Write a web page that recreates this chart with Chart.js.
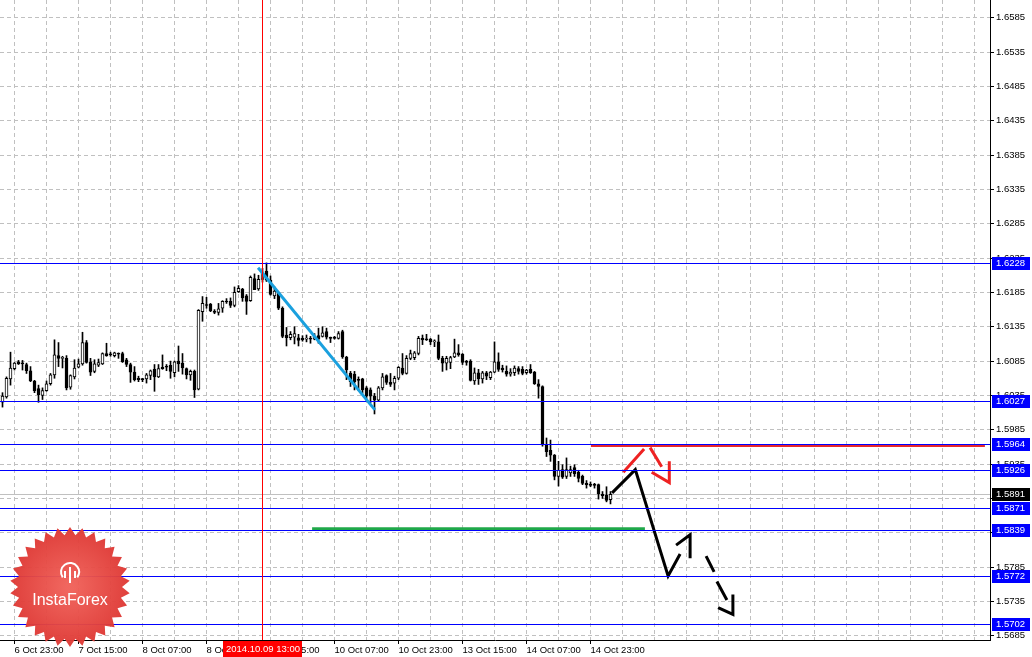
<!DOCTYPE html>
<html>
<head>
<meta charset="utf-8">
<script src="https://cdn.jsdelivr.net/npm/chart.js@4.4.1/dist/chart.umd.min.js"></script>
<style>
  html, body { margin: 0; padding: 0; background: #fff; }
  #grafico { display: block; }
</style>
</head>
<body>
<canvas id="grafico" width="1032" height="657"></canvas>
<script>
// GBPUSD H1 (bar 0 = 6 Oct 20:00)
var opens = [
  1.6025,1.6033,1.6059,1.6074,1.6084,1.6082,1.6080,1.6071,1.6056,1.6045,
  1.6035,1.6042,1.6052,1.6065,1.6093,1.6089,1.6089,1.6047,1.6062,1.6076,
  1.6081,1.6112,1.6084,1.6070,1.6079,1.6081,1.6096,1.6095,1.6093,1.6096,
  1.6096,1.6087,1.6080,1.6069,1.6060,1.6059,1.6059,1.6064,1.6073,1.6062,
  1.6076,1.6077,1.6079,1.6068,1.6085,1.6082,1.6074,1.6065,1.6070,1.6044,
  1.6157,1.6167,1.6168,1.6158,1.6156,1.6162,1.6172,1.6172,1.6166,1.6186,
  1.6190,1.6180,1.6173,1.6205,1.6190,1.6204,1.6216,1.6203,1.6180,1.6184,
  1.6162,1.6123,1.6119,1.6120,1.6119,1.6118,1.6117,1.6118,1.6117,1.6122,
  1.6121,1.6128,1.6119,1.6120,1.6118,1.6128,1.6091,1.6067,1.6066,1.6058,
  1.6059,1.6046,1.6043,1.6034,1.6028,1.6046,1.6064,1.6054,1.6053,1.6060,
  1.6075,1.6067,1.6089,1.6090,1.6096,1.6118,1.6117,1.6117,1.6113,1.6113,
  1.6089,1.6082,1.6083,1.6091,1.6097,1.6095,1.6085,1.6085,1.6056,1.6068,
  1.6059,1.6068,1.6061,1.6069,1.6084,1.6075,1.6070,1.6066,1.6068,1.6074,
  1.6073,1.6068,1.6073,1.6069,1.6052,1.6048,1.5963,1.5955,1.5948,1.5917,
  1.5927,1.5917,1.5922,1.5930,1.5923,1.5917,1.5907,1.5906,1.5905,1.5905,
  1.5891,1.5890,1.5883
];
var highs = [
  1.6039,1.6062,1.6098,1.6083,1.6086,1.6086,1.6082,1.6077,1.6057,1.6050,
  1.6046,1.6056,1.6067,1.6116,1.6112,1.6092,1.6093,1.6065,1.6087,1.6088,
  1.6127,1.6115,1.6089,1.6087,1.6088,1.6097,1.6111,1.6098,1.6098,1.6097,
  1.6098,1.6089,1.6082,1.6077,1.6063,1.6060,1.6067,1.6072,1.6080,1.6080,
  1.6094,1.6080,1.6085,1.6085,1.6107,1.6096,1.6075,1.6072,1.6072,1.6160,
  1.6179,1.6178,1.6169,1.6160,1.6169,1.6173,1.6176,1.6177,1.6193,1.6195,
  1.6191,1.6182,1.6209,1.6212,1.6210,1.6220,1.6228,1.6209,1.6193,1.6185,
  1.6164,1.6134,1.6128,1.6135,1.6124,1.6122,1.6123,1.6121,1.6125,1.6133,
  1.6135,1.6133,1.6120,1.6121,1.6128,1.6130,1.6092,1.6070,1.6070,1.6062,
  1.6060,1.6048,1.6046,1.6038,1.6048,1.6067,1.6065,1.6067,1.6063,1.6077,
  1.6096,1.6093,1.6101,1.6099,1.6121,1.6123,1.6124,1.6118,1.6116,1.6123,
  1.6092,1.6092,1.6092,1.6117,1.6109,1.6096,1.6086,1.6087,1.6075,1.6073,
  1.6070,1.6070,1.6070,1.6113,1.6097,1.6079,1.6078,1.6074,1.6078,1.6077,
  1.6077,1.6073,1.6080,1.6070,1.6058,1.6049,1.5973,1.5970,1.5949,1.5939,
  1.5934,1.5944,1.5932,1.5934,1.5926,1.5919,1.5911,1.5909,1.5907,1.5906,
  1.5895,1.5902,1.5895
];
var lows = [
  1.6018,1.6031,1.6050,1.6072,1.6080,1.6072,1.6067,1.6055,1.6039,1.6025,
  1.6029,1.6041,1.6050,1.6060,1.6077,1.6075,1.6043,1.6044,1.6059,1.6075,
  1.6079,1.6082,1.6064,1.6068,1.6077,1.6080,1.6092,1.6092,1.6091,1.6089,
  1.6083,1.6077,1.6054,1.6056,1.6055,1.6055,1.6053,1.6058,1.6041,1.6061,
  1.6073,1.6071,1.6060,1.6062,1.6070,1.6066,1.6059,1.6057,1.6032,1.6043,
  1.6143,1.6162,1.6157,1.6154,1.6152,1.6156,1.6169,1.6163,1.6164,1.6185,
  1.6172,1.6153,1.6172,1.6189,1.6188,1.6200,1.6201,1.6181,1.6176,1.6160,
  1.6119,1.6107,1.6116,1.6110,1.6107,1.6114,1.6113,1.6111,1.6116,1.6111,
  1.6120,1.6117,1.6112,1.6117,1.6117,1.6089,1.6058,1.6048,1.6043,1.6042,
  1.6038,1.6026,1.6024,1.6008,1.6026,1.6043,1.6051,1.6048,1.6043,1.6058,
  1.6065,1.6066,1.6087,1.6087,1.6094,1.6109,1.6115,1.6109,1.6106,1.6087,
  1.6070,1.6072,1.6074,1.6090,1.6092,1.6080,1.6079,1.6056,1.6051,1.6051,
  1.6053,1.6058,1.6058,1.6068,1.6070,1.6069,1.6063,1.6063,1.6064,1.6066,
  1.6065,1.6066,1.6067,1.6051,1.6031,1.5961,1.5946,1.5939,1.5912,1.5903,
  1.5914,1.5914,1.5917,1.5917,1.5909,1.5905,1.5900,1.5902,1.5900,1.5884,
  1.5885,1.5880,1.5877
];
var closes = [
  1.6034,1.6060,1.6075,1.6082,1.6081,1.6081,1.6071,1.6056,1.6042,1.6036,
  1.6042,1.6052,1.6065,1.6094,1.6089,1.6090,1.6046,1.6064,1.6075,1.6081,
  1.6112,1.6083,1.6069,1.6081,1.6083,1.6096,1.6093,1.6094,1.6097,1.6095,
  1.6084,1.6080,1.6069,1.6058,1.6058,1.6058,1.6065,1.6071,1.6062,1.6074,
  1.6074,1.6076,1.6070,1.6084,1.6081,1.6075,1.6065,1.6070,1.6043,1.6159,
  1.6169,1.6166,1.6158,1.6156,1.6161,1.6172,1.6171,1.6166,1.6185,1.6191,
  1.6177,1.6172,1.6207,1.6189,1.6204,1.6213,1.6203,1.6182,1.6187,1.6162,
  1.6121,1.6119,1.6124,1.6125,1.6115,1.6116,1.6117,1.6117,1.6121,1.6117,
  1.6126,1.6120,1.6118,1.6118,1.6125,1.6091,1.6072,1.6055,1.6055,1.6057,
  1.6043,1.6034,1.6034,1.6028,1.6046,1.6062,1.6054,1.6051,1.6060,1.6076,
  1.6067,1.6089,1.6096,1.6097,1.6118,1.6116,1.6116,1.6113,1.6114,1.6089,
  1.6082,1.6089,1.6090,1.6097,1.6094,1.6083,1.6083,1.6057,1.6068,1.6059,
  1.6068,1.6063,1.6069,1.6084,1.6073,1.6072,1.6066,1.6069,1.6075,1.6070,
  1.6067,1.6072,1.6068,1.6052,1.6048,1.5963,1.5953,1.5948,1.5917,1.5926,
  1.5916,1.5927,1.5927,1.5921,1.5914,1.5907,1.5905,1.5904,1.5904,1.5892,
  1.5889,1.5882,1.5891
];

// eixo de tempo: um rótulo a cada 16 barras, a partir da barra 3
var tickLabels = ['6 Oct 23:00', '7 Oct 15:00', '8 Oct 07:00', '8 Oct 23:00', '9 Oct 15:00',
                  '10 Oct 07:00', '10 Oct 23:00', '13 Oct 15:00', '14 Oct 07:00', '14 Oct 23:00'];
var firstLabelBar = 3;
var labelEvery = 16;
var gridEvery = 8;

var priceTicks = [1.5685, 1.5735, 1.5785, 1.5835, 1.5885, 1.5935, 1.5985, 1.6035, 1.6085, 1.6135,
                  1.6185, 1.6235, 1.6285, 1.6335, 1.6385, 1.6435, 1.6485, 1.6535, 1.6585];

// níveis horizontais e preço atual
var levelPrices = [1.6228, 1.6027, 1.5964, 1.5926, 1.5871, 1.5839, 1.5772, 1.5702];
var lastPrice = 1.5891;

// linha vertical vermelha
var markerBar = 65;
var markerLabel = '2014.10.09 13:00';

// desenhos do analista: [barra, preço]
var trendLine = [[63.9, 1.6221], [93.1, 1.6014]];
var resistanceLine = [[147.1, 1.5962], [245.6, 1.5962]];
var supportLine = [[77.4, 1.5841], [160.6, 1.5841]];
var forecastSegments = [
  [[152.4, 1.5893], [158.2, 1.5927], [166.4, 1.5772], [169.4, 1.5804]],
  [[168.4, 1.5817], [171.9, 1.5832], [171.9, 1.5798]],
  [[175.9, 1.5801], [177.9, 1.5778]],
  [[178.6, 1.5764], [181.1, 1.5737]],
  [[178.9, 1.5726], [182.6, 1.5716], [182.6, 1.5745]]
];
var altSegments = [
  [[155.2, 1.5923], [160.4, 1.5957]],
  [[161.9, 1.5959], [164.8, 1.5931]],
  [[162.3, 1.5923], [166.7, 1.5908], [166.7, 1.5939]]
];

var xMin = -0.625, xMax = 246.875;
var yMin = 1.56788, yMax = 1.66109;

// > monta os dados das velas
var wickData = [];
var bodyData = [];
var bodyColors = [];
for (var i = 0; i < opens.length; i++) {
  wickData.push({ x: i, y: [lows[i], highs[i]] });
  bodyData.push({ x: i, y: [opens[i], closes[i]] });
  bodyColors.push(closes[i] >= opens[i] ? '#ffffff' : '#000000');
}

function toPoints(segs) {
  var pts = [];
  segs.forEach(function (seg, k) {
    if (k > 0) pts.push({ x: seg[0][0], y: null });
    seg.forEach(function (p) { pts.push({ x: p[0], y: p[1] }); });
  });
  return pts;
}

var gridBars = [];
for (var b = firstLabelBar; b <= xMax; b += gridEvery) gridBars.push(b);

function labelFor(v) {
  var k = (v - firstLabelBar) / labelEvery;
  return (Number.isInteger(k) && k < tickLabels.length) ? tickLabels[k] : '';
}

var FONT = 'Liberation Sans';

function drawLogo(ctx) {
  var cx = 70, cy = 587, R = 60, r = 52, n = 30;
  ctx.save();
  ctx.beginPath();
  for (var k = 0; k < n * 2; k++) {
    var a = Math.PI * k / n - Math.PI / 2;
    var rad = (k % 2) ? r : R;
    ctx.lineTo(cx + rad * Math.cos(a), cy + rad * Math.sin(a));
  }
  ctx.closePath();
  var g = ctx.createRadialGradient(cx, cy, 4, cx, cy, R);
  g.addColorStop(0, 'rgba(240,96,88,0.96)');
  g.addColorStop(1, 'rgba(222,56,52,0.96)');
  ctx.fillStyle = g;
  ctx.fill();
  // emblema
  ctx.strokeStyle = '#fff';
  ctx.fillStyle = '#fff';
  ctx.lineWidth = 2;
  ctx.beginPath();
  ctx.arc(cx, cy - 15, 9, Math.PI * 0.8, Math.PI * 2.2);
  ctx.stroke();
  ctx.beginPath();
  ctx.moveTo(cx, cy - 20); ctx.lineTo(cx, cy - 4);
  ctx.moveTo(cx - 5, cy - 16); ctx.lineTo(cx - 5, cy - 9);
  ctx.moveTo(cx + 5, cy - 16); ctx.lineTo(cx + 5, cy - 9);
  ctx.stroke();
  ctx.font = '16px ' + FONT;
  ctx.textAlign = 'center';
  ctx.textBaseline = 'middle';
  ctx.fillText('InstaForex', cx, cy + 14);
  ctx.restore();
}

function drawLevels(chart) {
  var ctx = chart.ctx, a = chart.chartArea, ys = chart.scales.y;
  ctx.save();
  ctx.lineWidth = 1;
  ctx.setLineDash([]);
  ctx.strokeStyle = '#0000ff';
  for (var k = 0; k < levelPrices.length; k++) {
    var y = Math.round(ys.getPixelForValue(levelPrices[k])) + 0.5;
    ctx.beginPath();
    ctx.moveTo(a.left, y);
    ctx.lineTo(a.right, y);
    ctx.stroke();
  }
  ctx.restore();
}

var mt4Plugin = {
  id: 'mt4',
  beforeDatasetsDraw: function (chart) {
    var ctx = chart.ctx, a = chart.chartArea, y = Math.round(chart.scales.y.getPixelForValue(lastPrice)) + 0.5;
    ctx.save();
    ctx.strokeStyle = '#c0c0c0';
    ctx.lineWidth = 1;
    ctx.beginPath();
    ctx.moveTo(a.left, y); ctx.lineTo(a.right, y);
    ctx.stroke();
    ctx.restore();
  },
  beforeDatasetDraw: function (chart, args) {
    // níveis por cima das velas, por baixo dos desenhos
    if (args.index === 2) drawLevels(chart);
  },
  afterDatasetsDraw: function (chart) {
    var ctx = chart.ctx, a = chart.chartArea, xs = chart.scales.x;
    var x = Math.round(xs.getPixelForValue(markerBar)) - 0.5;
    ctx.save();
    ctx.lineWidth = 1;
    ctx.strokeStyle = '#ff0000';
    ctx.beginPath();
    ctx.moveTo(x, a.top); ctx.lineTo(x, a.bottom);
    ctx.stroke();
    ctx.restore();
  },
  afterDraw: function (chart) {
    var ctx = chart.ctx, a = chart.chartArea, ys = chart.scales.y, xs = chart.scales.x;
    ctx.save();
    ctx.font = '9.5px ' + FONT;
    ctx.textBaseline = 'middle';
    ctx.textAlign = 'left';
    function box(p, color) {
      var y = Math.round(ys.getPixelForValue(p));
      ctx.fillStyle = color;
      ctx.fillRect(a.right + 2, y - 6, 38, 13);
      ctx.fillStyle = '#fff';
      ctx.fillText(p.toFixed(4), a.right + 6, y + 0.5);
    }
    levelPrices.forEach(function (p) { box(p, '#0000ff'); });
    box(lastPrice, '#000000');
    // rótulo da data na linha vermelha
    var x = Math.round(xs.getPixelForValue(markerBar));
    ctx.fillStyle = '#ff0000';
    ctx.fillRect(x - 40, a.bottom + 1, 79, 16);
    ctx.fillStyle = '#fff';
    ctx.textAlign = 'center';
    ctx.fillText(markerLabel, x, a.bottom + 9.5);
    ctx.restore();
    drawLogo(ctx);
  }
};

var ctx = document.getElementById('grafico').getContext('2d');
var grafico = new Chart(ctx, {
  type: 'bar',
  data: {
    datasets: [
      { type: 'bar', data: wickData, backgroundColor: '#000', barThickness: 1, grouped: false, minBarLength: 1, order: 3 },
      { type: 'bar', data: bodyData, backgroundColor: bodyColors, borderColor: '#000', borderWidth: 1,
        borderSkipped: false, barThickness: 3, grouped: false, minBarLength: 1, order: 2 },
      { type: 'line', data: toPoints([trendLine]), borderColor: '#1aa0de', borderWidth: 3, pointRadius: 0, order: 1 },
      { type: 'line', data: toPoints([resistanceLine]), borderColor: '#e8262c', borderWidth: 3, pointRadius: 0, order: 1 },
      { type: 'line', data: toPoints([supportLine]), borderColor: '#20a84a', borderWidth: 3, pointRadius: 0, order: 1 },
      { type: 'line', data: toPoints(forecastSegments), borderColor: '#000', borderWidth: 3, pointRadius: 0, spanGaps: false, order: 1 },
      { type: 'line', data: toPoints(altSegments), borderColor: '#ee2222', borderWidth: 3, pointRadius: 0, spanGaps: false, order: 1 }
    ]
  },
  options: {
    responsive: false,
    devicePixelRatio: 1,
    animation: false,
    layout: { padding: 0 },
    plugins: { legend: { display: false }, tooltip: { enabled: false } },
    scales: {
      x: {
        type: 'linear', min: xMin, max: xMax, offset: false,
        afterBuildTicks: function (s) { s.ticks = gridBars.map(function (v) { return { value: v }; }); },
        afterFit: function (s) { s.height = 17; s.paddingLeft = 0; s.paddingRight = 0; },
        ticks: { autoSkip: false, maxRotation: 0, align: 'start', padding: 1, color: '#000',
                 font: { family: FONT, size: 9.5 }, callback: function (v) { return labelFor(v); } },
        grid: { color: '#c0c0c0', tickLength: 4, offset: false, tickBorderDash: [],
                tickColor: function (c) { return c.tick && labelFor(c.tick.value) ? '#000' : 'rgba(0,0,0,0)'; } },
        border: { color: '#000', dash: [4, 3] }
      },
      y: {
        type: 'linear', position: 'right', min: yMin, max: yMax,
        afterBuildTicks: function (s) { s.ticks = priceTicks.map(function (v) { return { value: v }; }); },
        afterFit: function (s) { s.width = 42; s.paddingTop = 0; s.paddingBottom = 0; },
        ticks: { padding: 2, color: '#000', font: { family: FONT, size: 9.5 },
                 callback: function (v) { return v.toFixed(4); } },
        grid: { color: '#c0c0c0', tickLength: 4, tickColor: '#000', tickBorderDash: [] },
        border: { color: '#000', dash: [4, 3] }
      }
    }
  },
  plugins: [mt4Plugin]
});
</script>
</body>
</html>
